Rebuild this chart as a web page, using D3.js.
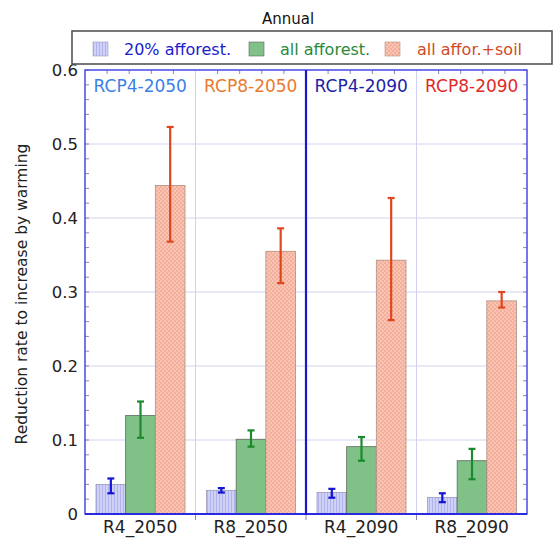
<!DOCTYPE html>
<html><head><meta charset="utf-8">
<script src="https://cdn.jsdelivr.net/npm/d3@7"></script>
<style>body{margin:0;background:#fff}svg{display:block}</style>
</head><body>
<script>
const categories = ["R4_2050","R8_2050","R4_2090","R8_2090"];
const panelLabels = ["RCP4-2050","RCP8-2050","RCP4-2090","RCP8-2090"];
const series = ["20% afforest.","all afforest.","all affor.+soil"];
const aff20   = [0.040, 0.032, 0.029, 0.0225];
const aff20Lo = [0.028, 0.029, 0.022, 0.016];
const aff20Hi = [0.048, 0.035, 0.034, 0.028];
const affAll   = [0.133, 0.101, 0.091, 0.072];
const affAllLo = [0.103, 0.091, 0.072, 0.047];
const affAllHi = [0.152, 0.113, 0.104, 0.088];
const affSoil   = [0.444, 0.355, 0.343, 0.288];
const affSoilLo = [0.368, 0.312, 0.262, 0.279];
const affSoilHi = [0.523, 0.386, 0.427, 0.300];
const yTicks = [0, 0.1, 0.2, 0.3, 0.4, 0.5, 0.6];
const yTickLabels = ["0","0.1","0.2","0.3","0.4","0.5","0.6"];

const W = 554, H = 539;
const L = 85, R = 527, T = 70, B = 514;
const FONT = "'DejaVu Sans', sans-serif";

const svg = d3.select("body").append("svg").attr("width", W).attr("height", H);
const defs = svg.append("defs");
const p1 = defs.append("pattern").attr("id","stripe").attr("patternUnits","userSpaceOnUse").attr("width",3).attr("height",3);
p1.append("rect").attr("width",3).attr("height",3).attr("fill","#cfd2f6");
p1.append("rect").attr("width",1).attr("height",3).attr("fill","#b0b3ec");
const p2 = defs.append("pattern").attr("id","dots").attr("patternUnits","userSpaceOnUse").attr("width",4).attr("height",4);
p2.append("rect").attr("width",4).attr("height",4).attr("fill","#f4ae99");
p2.append("circle").attr("cx",1).attr("cy",1).attr("r",0.9).attr("fill","#fad0c3");
p2.append("circle").attr("cx",3).attr("cy",3).attr("r",0.9).attr("fill","#fad0c3");

const x0 = d3.scaleBand().domain(categories).range([L, R]).padding(0);
const x1 = d3.scaleBand().domain(series).range([11, x0.bandwidth() - 10.5]).padding(0);
const y = d3.scaleLinear().domain([0, 0.6]).range([B, T]);

const seriesData = [
  {name: series[0], v: aff20, lo: aff20Lo, hi: aff20Hi, fill: "url(#stripe)", err: "#1414d2", stroke:"#9a9ab8"},
  {name: series[1], v: affAll, lo: affAllLo, hi: affAllHi, fill: "#80c187", err: "#1b8a2c", stroke:"#5a6a5a"},
  {name: series[2], v: affSoil, lo: affSoilLo, hi: affSoilHi, fill: "url(#dots)", err: "#e0461e", stroke:"#b09080"}
];

svg.append("g").selectAll("line").data(yTicks.slice(1, -1)).join("line")
  .attr("x1", L).attr("x2", R).attr("y1", d => y(d)).attr("y2", d => y(d))
  .attr("stroke", "#d2d2f0").attr("stroke-width", 1);
svg.append("g").selectAll("line").data([categories[1], categories[3]]).join("line")
  .attr("x1", d => x0(d)).attr("x2", d => x0(d)).attr("y1", T).attr("y2", B)
  .attr("stroke", "#d2d2f0").attr("stroke-width", 1);

const minor = d3.range(0, 0.6001, 0.02);
const tg = svg.append("g").attr("stroke", "#8a8ab0").attr("stroke-width", 1);
tg.selectAll(".ml").data(minor).join("line").attr("x1", L).attr("x2", L + 4).attr("y1", d => y(d)).attr("y2", d => y(d));
tg.selectAll(".mr").data(minor).join("line").attr("x1", R - 4).attr("x2", R).attr("y1", d => y(d)).attr("y2", d => y(d));
const topTicks = [];
categories.forEach(c => { for (let k = 1; k < 5; k++) topTicks.push(x0(c) + k * x0.bandwidth() / 5); });
tg.selectAll(".mt").data(topTicks).join("line").attr("x1", d => d).attr("x2", d => d).attr("y1", T).attr("y2", T + 4);
tg.selectAll(".mb").data(topTicks).join("line").attr("x1", d => d).attr("x2", d => d).attr("y1", B).attr("y2", B - 4);
tg.selectAll(".bo").data(categories.slice(1)).join("line").attr("x1", d => x0(d)).attr("x2", d => x0(d)).attr("y1", B).attr("y2", B + 6);

seriesData.forEach(s => {
  svg.append("g").selectAll("rect").data(categories).join("rect")
    .attr("x", (c) => x0(c) + x1(s.name))
    .attr("width", x1.bandwidth())
    .attr("y", (c, i) => y(s.v[i]))
    .attr("height", (c, i) => y(0) - y(s.v[i]))
    .attr("fill", s.fill).attr("stroke", s.stroke).attr("stroke-width", 0.8);
});
seriesData.forEach(s => {
  const g = svg.append("g").attr("stroke", s.err).attr("stroke-width", 2.2);
  categories.forEach((c, i) => {
    const cx = x0(c) + x1(s.name) + x1.bandwidth() / 2;
    g.append("line").attr("x1", cx).attr("x2", cx).attr("y1", y(s.lo[i])).attr("y2", y(s.hi[i]));
    g.append("line").attr("x1", cx - 3.5).attr("x2", cx + 3.5).attr("y1", y(s.lo[i])).attr("y2", y(s.lo[i]));
    g.append("line").attr("x1", cx - 3.5).attr("x2", cx + 3.5).attr("y1", y(s.hi[i])).attr("y2", y(s.hi[i]));
  });
});

svg.append("rect").attr("x", L).attr("y", T).attr("width", R - L).attr("height", B - T)
  .attr("fill", "none").attr("stroke", "#4a4ae6").attr("stroke-width", 1.5);
svg.append("line").attr("x1", L).attr("x2", R).attr("y1", B).attr("y2", B).attr("stroke", "#2a2ae0").attr("stroke-width", 2);
svg.append("line").attr("x1", x0(categories[2])).attr("x2", x0(categories[2])).attr("y1", T).attr("y2", B + 1)
  .attr("stroke", "#1818d0").attr("stroke-width", 2.2);

const panelColors = ["#3c7fe6", "#ea7a2e", "#1e1ea8", "#e02a2a"];
svg.append("g").selectAll("text").data(panelLabels).join("text")
  .attr("x", (d, i) => x0(categories[i]) + x0.bandwidth() / 2)
  .attr("y", 92).attr("text-anchor", "middle")
  .attr("font-family", FONT).attr("font-size", 17)
  .attr("fill", (d, i) => panelColors[i]).text(d => d);

svg.append("g").selectAll("text").data(yTicks).join("text")
  .attr("x", 78).attr("y", d => y(d)).attr("dy", "0.36em").attr("text-anchor", "end")
  .attr("font-family", FONT).attr("font-size", 16.5).attr("fill", "#222")
  .text((d, i) => yTickLabels[i]);

svg.append("g").selectAll("text").data(categories).join("text")
  .attr("x", c => x0(c) + x0.bandwidth() / 2).attr("y", 533).attr("text-anchor", "middle")
  .attr("font-family", FONT).attr("font-size", 17).attr("fill", "#222").text(d => d);

svg.append("text").attr("transform", "translate(27,294) rotate(-90)").attr("text-anchor", "middle")
  .attr("font-family", FONT).attr("font-size", 15.5).attr("fill", "#222")
  .text("Reduction rate to increase by warming");

svg.append("text").attr("x", 288).attr("y", 24).attr("text-anchor", "middle")
  .attr("font-family", FONT).attr("font-size", 15).attr("fill", "#111").text("Annual");

svg.append("rect").attr("x", 72).attr("y", 31).attr("width", 480).attr("height", 33)
  .attr("fill", "#fff").attr("stroke", "#555").attr("stroke-width", 1.6);
const legX = [93, 249, 385];
const legText = [124, 280, 417];
const legTextColors = ["#2020d0", "#2a8a3a", "#d04a2a"];
const lg = svg.append("g");
seriesData.forEach((s, i) => {
  lg.append("rect").attr("x", legX[i]).attr("y", 42).attr("width", 15).attr("height", 14)
    .attr("fill", s.fill).attr("stroke", s.stroke).attr("stroke-width", 0.6);
  lg.append("text").attr("x", legText[i]).attr("y", 55).attr("font-family", FONT).attr("font-size", 16)
    .attr("fill", legTextColors[i]).text(s.name);
});
</script>
</body></html>
